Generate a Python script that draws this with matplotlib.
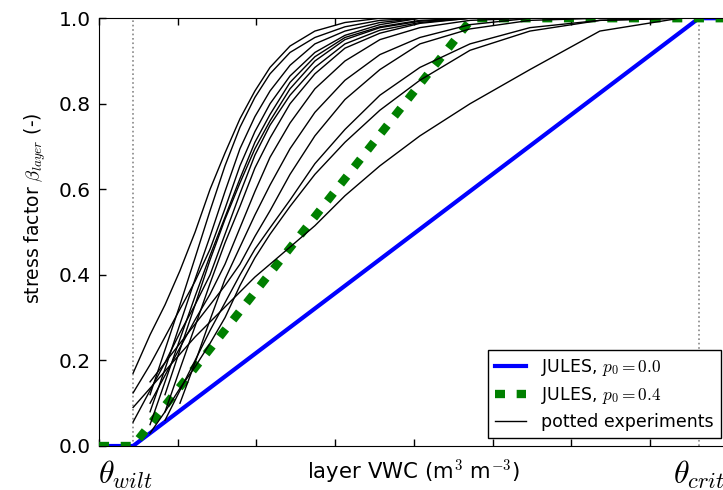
import numpy as np
import matplotlib
matplotlib.use("Agg")
import matplotlib.pyplot as plt

plt.rcParams["mathtext.fontset"] = "cm"
plt.rcParams["font.family"] = ["DejaVu Sans"]

# layer VWC (m3 m-3)
theta_wilt = 0.0216
theta_crit = 0.381
theta_full_p04 = 0.237   # JULES p0=0.4 reaches beta=1 here

jules_p00_x = [0.0, theta_wilt, theta_crit, 0.40]
jules_p00_y = [0.0, 0.0, 1.0, 1.0]
jules_p04_x = [0.0, theta_wilt, theta_full_p04, 0.40]
jules_p04_y = [0.0, 0.0, 1.0, 1.0]

# shared VWC grid for the potted-experiment curves
pot_vwc = [0.0216, 0.0324, 0.0419, 0.0514, 0.0610, 0.0705, 0.0800, 0.0895,
           0.0990, 0.1086, 0.1213, 0.1371, 0.1562, 0.1784, 0.2038, 0.2356,
           0.2737, 0.3181, 0.3689, 0.40]
nan = np.nan
pot_beta = [
    [.17, .26, .33, .41, .50, .60, .685, .765, .83, .885, .935, .97, .99, 1, 1, 1, 1, 1, 1, 1],
    [nan, .12, .225, .33, .44, .55, .655, .745, .815, .87, .92, .955, .98, .995, 1, 1, 1, 1, 1, 1],
    [nan, .08, .18, .285, .39, .49, .595, .695, .77, .83, .89, .94, .97, .99, 1, 1, 1, 1, 1, 1],
    [.124, .19, .255, .32, .385, .46, .555, .655, .735, .80, .865, .92, .96, .985, 1, 1, 1, 1, 1, 1],
    [nan, .05, .15, .25, .35, .445, .535, .625, .71, .775, .85, .91, .955, .98, .995, 1, 1, 1, 1, 1],
    [nan, nan, .12, .225, .33, .435, .53, .615, .695, .76, .835, .90, .95, .978, .993, 1, 1, 1, 1, 1],
    [.056, .13, .195, .265, .33, .40, .495, .59, .68, .75, .82, .885, .94, .972, .99, 1, 1, 1, 1, 1],
    [nan, nan, .08, .18, .28, .38, .475, .56, .65, .72, .80, .87, .93, .965, .988, 1, 1, 1, 1, 1],
    [nan, .10, .165, .23, .295, .355, .425, .51, .595, .675, .755, .835, .90, .95, .978, .995, 1, 1, 1, 1],
    [nan, nan, nan, .10, .195, .295, .39, .465, .54, .61, .695, .78, .855, .915, .955, .985, 1, 1, 1, 1],
    [nan, .15, .195, .24, .285, .33, .375, .425, .49, .55, .635, .725, .81, .88, .94, .975, .995, 1, 1, 1],
    [nan, nan, .06, .13, .20, .27, .335, .40, .46, .51, .575, .66, .74, .82, .885, .94, .978, .995, 1, 1],
    [nan, .03, .08, .135, .185, .24, .30, .375, .44, .495, .56, .635, .71, .785, .855, .925, .97, .995, 1, 1],
    [.09, .135, .175, .215, .255, .29, .325, .36, .395, .425, .465, .515, .585, .655, .725, .80, .88, .97, 1, 1],
]

fig = plt.figure(figsize=(7.23, 4.9), dpi=100)
ax = fig.add_axes([0.137, 0.0898, 0.871, 0.873])

ax.axvline(theta_wilt, color="#888888", linestyle=":", linewidth=1.2, zorder=1)
ax.axvline(theta_crit, color="#888888", linestyle=":", linewidth=1.2, zorder=1)

ax.plot(jules_p00_x, jules_p00_y, color="#0000ff", linewidth=3,
        label=r"JULES, $p_0 = 0.0$", zorder=2)
ax.plot(jules_p04_x, jules_p04_y, color="#008000", linewidth=6,
        linestyle=(0, (1.2, 1.4)), dash_capstyle="butt",
        label=r"JULES, $p_0 = 0.4$", zorder=3)
for i, beta in enumerate(pot_beta):
    ax.plot(pot_vwc, beta, color="black", linewidth=1.0, zorder=4,
            label="potted experiments" if i == 0 else None)

ax.set_xlim(0.0, 0.40)
ax.set_ylim(0.0, 1.0)
ax.set_xticks(np.arange(0.0, 0.401, 0.05))
ax.set_xticklabels([])
ax.set_yticks([0.0, 0.2, 0.4, 0.6, 0.8, 1.0])
ax.tick_params(direction="in", top=True, right=False, length=5, width=1,
               labelsize=14.5, pad=6)

ax.set_xlabel(r"layer VWC (m$^3$ m$^{-3}$)", fontsize=15.3, labelpad=2)
ax.set_ylabel(r"stress factor $\beta_{layer}$ (-)", fontsize=13.5)
ax.yaxis.set_label_coords(-0.081, 0.556)

ax.text(theta_wilt - 0.005, -0.03, r"$\theta_{wilt}$", transform=ax.get_xaxis_transform(),
        ha="center", va="top", fontsize=23)
ax.text(theta_crit, -0.03, r"$\theta_{crit}$", transform=ax.get_xaxis_transform(),
        ha="center", va="top", fontsize=23)

leg = ax.legend(loc="lower right", fontsize=12.5, fancybox=False, framealpha=1,
                edgecolor="black", handlelength=1.8, handletextpad=0.9,
                borderpad=0.4, labelspacing=0.4, borderaxespad=0.45)
leg.get_frame().set_linewidth(1.0)

fig.savefig("out.png", dpi=100, facecolor="white")
